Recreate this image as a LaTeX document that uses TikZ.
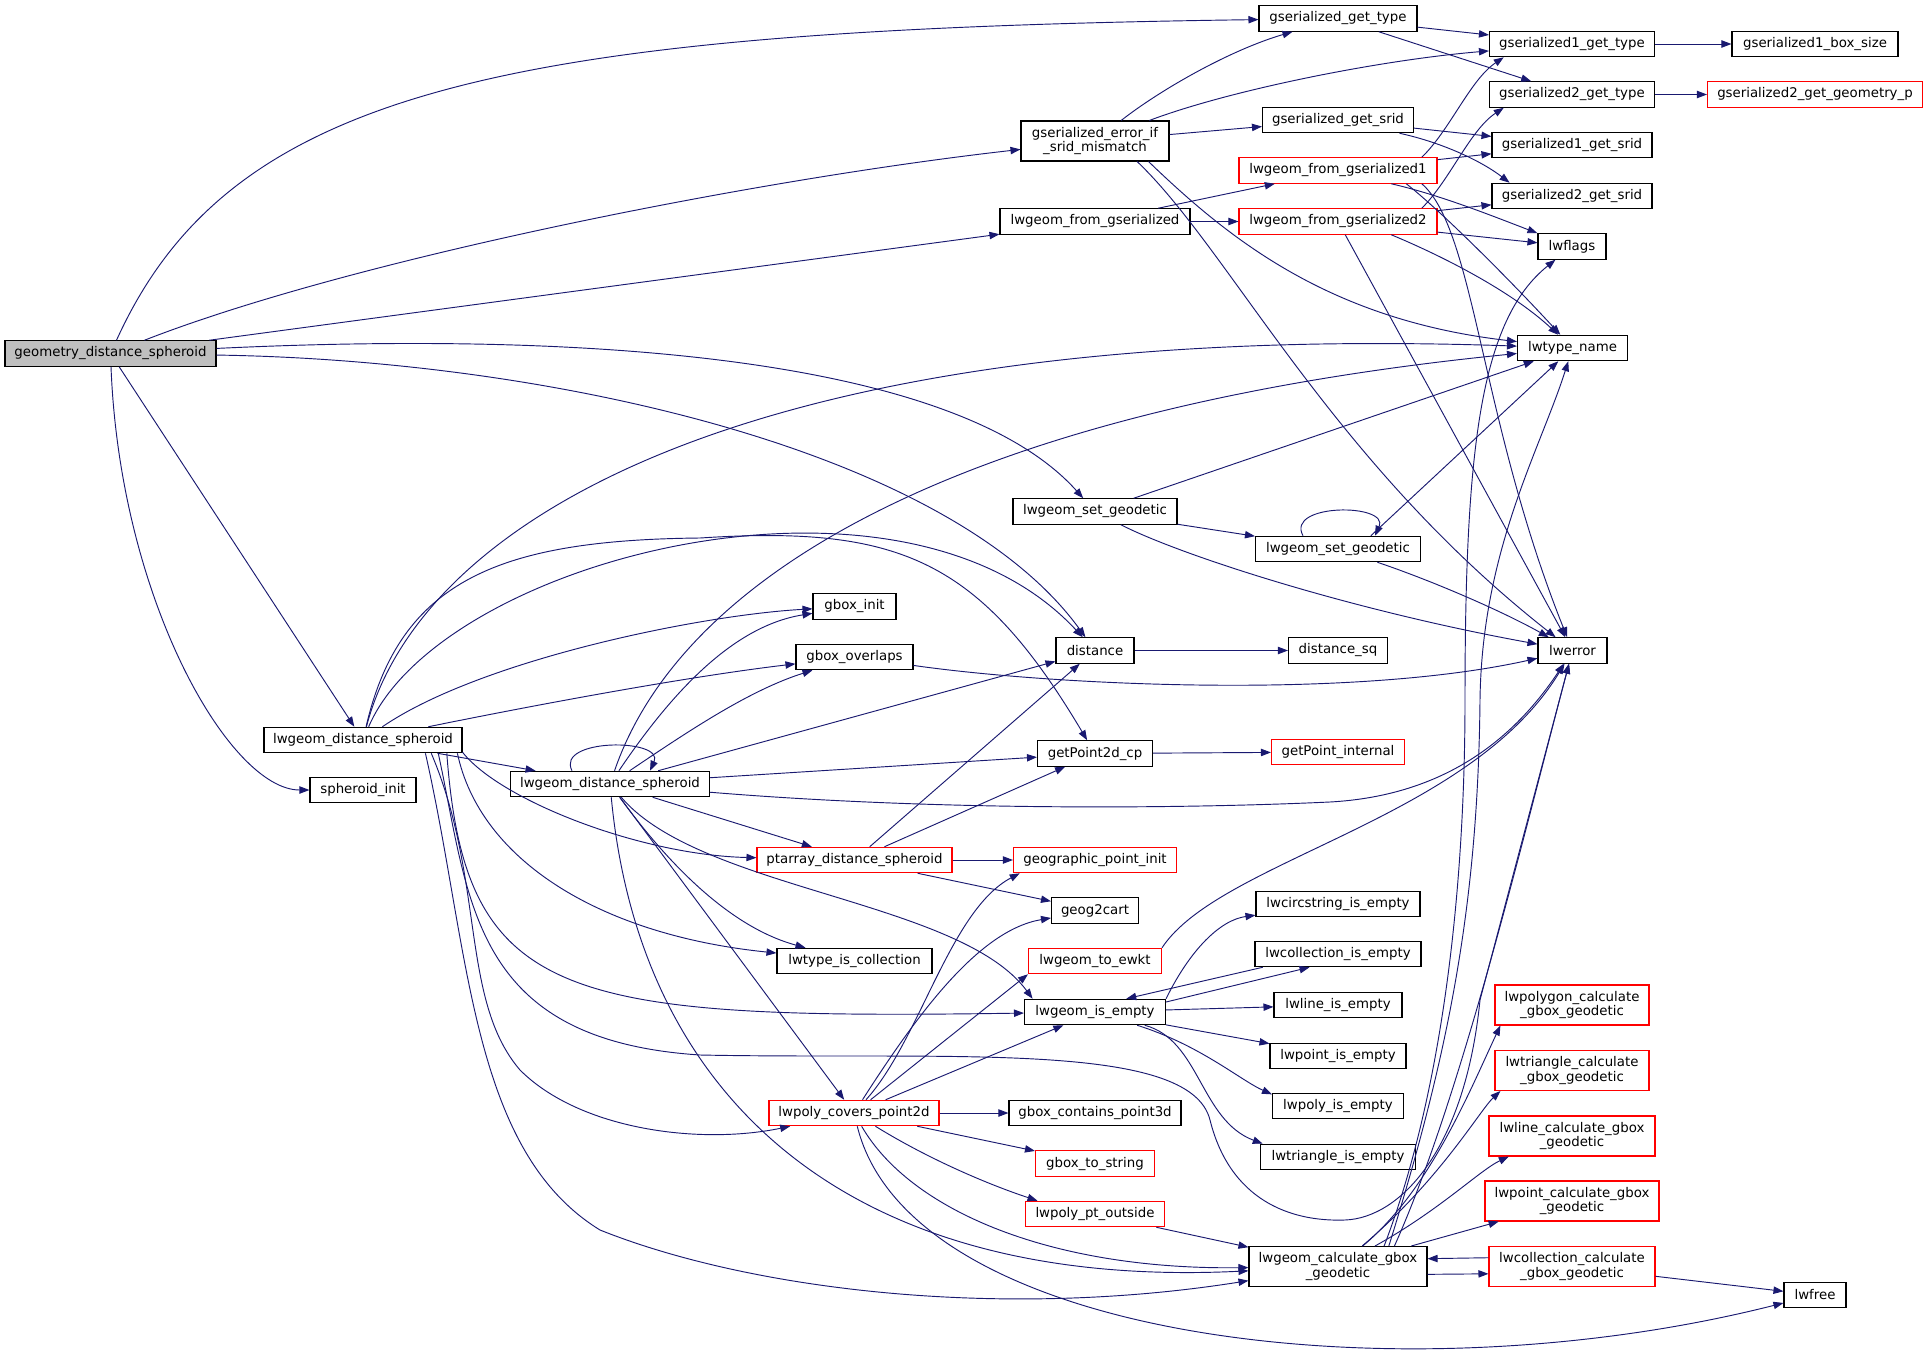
\documentclass[tikz,border=0pt]{standalone}
\usepackage{fontspec}
\setmainfont{DejaVu Sans}
\usetikzlibrary{arrows.meta}
\definecolor{edgeblue}{HTML}{191970}
\begin{document}
\begin{tikzpicture}[x=0.75pt,y=-0.75pt,
	every node/.style={draw=black,line width=0.8pt,fill=white,inner sep=0pt,
		minimum height=19.1pt,align=center,font=\fontsize{10}{11.2}\selectfont},
	boxw/.style={minimum width=#1*0.75pt},
	tall/.style={minimum height=30pt},
	trunc/.style={draw=red},
	root/.style={fill=gray!50},
	call/.style={draw=edgeblue,line width=0.7pt,-{Triangle[length=7.5pt,width=5.5pt]}}]
\fill[white,use as bounding box] (0,0) rectangle (1928,1363);
\node[root,boxw=211] (gds) at (110.5,353.5) {geometry\_distance\_spheroid};
\node[boxw=198] (lds) at (363,740) {lwgeom\_distance\_spheroid};
\node[boxw=106] (sinit) at (363,790) {spheroid\_init};
\node[boxw=199] (ldsb) at (610,784) {lwgeom\_distance\_spheroid};
\node[boxw=83] (ginit) at (854.5,606.5) {gbox\_init};
\node[boxw=117] (govl) at (854.5,657) {gbox\_overlaps};
\node[trunc,boxw=195] (pds) at (854.5,860) {ptarray\_distance\_spheroid};
\node[boxw=155] (ltic) at (854.5,961) {lwtype\_is\_collection};
\node[trunc,boxw=170] (lpc) at (854,1113) {lwpoly\_covers\_point2d};
\node[tall,boxw=148] (geif) at (1095,141) {gserialized\_error\_if\\\_srid\_mismatch};
\node[boxw=190] (lfg) at (1095,221.5) {lwgeom\_from\_gserialized};
\node[boxw=164] (lsg) at (1095,511.5) {lwgeom\_set\_geodetic};
\node[boxw=78] (dist) at (1095,650.5) {distance};
\node[boxw=115] (gp2d) at (1095,753.5) {getPoint2d\_cp};
\node[trunc,boxw=163] (gpi) at (1095,860) {geographic\_point\_init};
\node[boxw=87] (g2c) at (1095,910.5) {geog2cart};
\node[trunc,boxw=133] (ewkt) at (1095,961) {lwgeom\_to\_ewkt};
\node[boxw=141] (lie) at (1095,1012) {lwgeom\_is\_empty};
\node[boxw=172] (gcp3) at (1095,1113) {gbox\_contains\_point3d};
\node[trunc,boxw=119] (gts) at (1095,1163.5) {gbox\_to\_string};
\node[trunc,boxw=139] (lppo) at (1095,1214) {lwpoly\_pt\_outside};
\node[boxw=158] (ggt) at (1338,18.5) {gserialized\_get\_type};
\node[boxw=151] (ggs) at (1338,120) {gserialized\_get\_srid};
\node[trunc,boxw=198] (lfg1) at (1338,170.5) {lwgeom\_from\_gserialized1};
\node[trunc,boxw=198] (lfg2) at (1338,221.5) {lwgeom\_from\_gserialized2};
\node[boxw=165] (lsgb) at (1338,549) {lwgeom\_set\_geodetic};
\node[boxw=99] (dsq) at (1338,650.5) {distance\_sq};
\node[trunc,boxw=133] (gpint) at (1338,752) {getPoint\_internal};
\node[boxw=164] (lcie) at (1338,904) {lwcircstring\_is\_empty};
\node[boxw=166] (lcoie) at (1338,954) {lwcollection\_is\_empty};
\node[boxw=128] (llie) at (1338,1005) {lwline\_is\_empty};
\node[boxw=136] (lptie) at (1338,1056) {lwpoint\_is\_empty};
\node[boxw=131] (lpyie) at (1338,1106) {lwpoly\_is\_empty};
\node[boxw=155] (ltrie) at (1338,1157) {lwtriangle\_is\_empty};
\node[tall,boxw=178] (lcgg) at (1338,1266.5) {lwgeom\_calculate\_gbox\\\_geodetic};
\node[boxw=165] (g1gt) at (1572,44) {gserialized1\_get\_type};
\node[boxw=165] (g2gt) at (1572,94.5) {gserialized2\_get\_type};
\node[boxw=160] (g1gs) at (1572,145) {gserialized1\_get\_srid};
\node[boxw=160] (g2gs) at (1572,196) {gserialized2\_get\_srid};
\node[boxw=68] (lwfl) at (1572,246.5) {lwflags};
\node[boxw=110] (ltn) at (1572.5,348) {lwtype\_name};
\node[boxw=69] (lwerr) at (1572.5,650.5) {lwerror};
\node[trunc,tall,boxw=154] (lpgc) at (1572,1005) {lwpolygon\_calculate\\\_gbox\_geodetic};
\node[trunc,tall,boxw=154] (ltgc) at (1572,1070.5) {lwtriangle\_calculate\\\_gbox\_geodetic};
\node[trunc,tall,boxw=166] (llgc) at (1572,1136) {lwline\_calculate\_gbox\\\_geodetic};
\node[trunc,tall,boxw=174] (lptgc) at (1572,1201) {lwpoint\_calculate\_gbox\\\_geodetic};
\node[trunc,tall,boxw=166] (lcgc) at (1572,1266.5) {lwcollection\_calculate\\\_gbox\_geodetic};
\node[boxw=166] (g1bs) at (1815,44) {gserialized1\_box\_size};
\node[trunc,boxw=215] (g2gp) at (1815,94.5) {gserialized2\_get\_geometry\_p};
\node[boxw=62] (lwfree) at (1815,1295) {lwfree};
\draw[call] (gds) .. controls (230,90) and (500,30) .. (ggt);
\draw[call] (gds) .. controls (350,260) and (750,180) .. (geif);
\draw[call] (gds) -- (lfg);
\draw[call] (gds) .. controls (600,330) and (960,360) .. (lsg);
\draw[call] (gds) .. controls (550,360) and (950,450) .. (dist);
\draw[call] (gds) -- (lds);
\draw[call] (gds) .. controls (120,600) and (230,790) .. (sinit);
\draw[call] (lds) .. controls (420,520) and (750,320) .. (ltn);
\draw[call] (lds) .. controls (440,560) and (900,440) .. (dist);
\draw[call] (lds) .. controls (400,580) and (500,540) .. (700,538) .. controls (900,525) and (980,560) .. (gp2d);
\draw[call] (lds) .. controls (480,660) and (700,615) .. (ginit);
\draw[call] (lds) .. controls (560,700) and (700,675) .. (govl);
\draw[call] (lds) -- (ldsb);
\draw[call] (lds.-7) .. controls (500,800) and (640,855) .. (pds);
\draw[call] (lds.-8) .. controls (480,860) and (600,935) .. (ltic);
\draw[call] (lds.-9) .. controls (465,1000) and (560,1020) .. (lie);
\draw[call] (lds.-10) .. controls (470,900) and (470,1040) .. (700,1055) .. controls (950,1060) and (1190,1040) .. (1210,1120) .. controls (1230,1200) and (1290,1222) .. (1345,1220) .. controls (1400,1218) and (1465,1150) .. (1480,1000) -- (lwerr);
\draw[call] (lds.-11) .. controls (485,880) and (460,1000) .. (520,1070) .. controls (580,1130) and (700,1145) .. (lpc);
\draw[call] (lds.-12) .. controls (470,950) and (470,1150) .. (600,1230) .. controls (750,1290) and (1000,1320) .. (lcgg);
\draw[call] ([xshift=-28.5pt]ldsb.north) .. controls (555,738) and (665,738) .. ([xshift=30pt]ldsb.north);
\draw[call] (ldsb) .. controls (680,580) and (950,410) .. (ltn);
\draw[call] (ldsb) .. controls (680,680) and (740,625) .. (ginit);
\draw[call] (ldsb) .. controls (690,730) and (750,690) .. (govl);
\draw[call] (ldsb) -- (dist);
\draw[call] (ldsb) -- (gp2d);
\draw[call] (ldsb) .. controls (950,812) and (1200,808) .. (1330,802) .. controls (1420,797) and (1500,760) .. (lwerr);
\draw[call] (ldsb) -- (pds);
\draw[call] (ldsb) .. controls (700,890) and (960,900) .. (lie.168);
\draw[call] (ldsb) .. controls (680,880) and (740,930) .. (ltic);
\draw[call] (ldsb) -- (lpc);
\draw[call] (ldsb) .. controls (640,1100) and (850,1290) .. (lcgg);
\draw[call] (pds) -- (gpi);
\draw[call] (pds) -- (g2c);
\draw[call] (pds) -- (dist);
\draw[call] (pds) -- (gp2d);
\draw[call] (lpc) .. controls (920,1040) and (950,910) .. (gpi.190);
\draw[call] (lpc) .. controls (920,1010) and (980,930) .. (g2c);
\draw[call] (lpc) -- (ewkt.south west);
\draw[call] (lpc) -- (lie);
\draw[call] (lpc) -- (gcp3);
\draw[call] (lpc) -- (gts);
\draw[call] (lpc) .. controls (930,1160) and (990,1185) .. (lppo.167);
\draw[call] (lpc) .. controls (910,1210) and (1050,1270) .. (lcgg);
\draw[call] (lpc) .. controls (910,1340) and (1400,1400) .. (lwfree);
\draw[call] (ewkt.north east) .. controls (1220,860) and (1470,820) .. (lwerr);
\draw[call] (lie.north east) .. controls (1190,950) and (1220,920) .. (lcie);
\draw[call] (lie.8) -- (lcoie.205);
\draw[call] (lcoie.190) -- (lie.23);
\draw[call] (lie) -- (llie);
\draw[call] (lie) -- (lptie);
\draw[call] (lie) .. controls (1200,1045) and (1240,1080) .. (lpyie.170);
\draw[call] (lie) .. controls (1200,1040) and (1200,1120) .. (ltrie.170);
\draw[call] (lppo) -- (lcgg);
\draw[call] (lcgg) .. controls (1430,1190) and (1470,1090) .. (lpgc.196);
\draw[call] (lcgg) .. controls (1440,1180) and (1480,1110) .. (ltgc.196);
\draw[call] (lcgg) .. controls (1440,1210) and (1480,1170) .. (llgc.198);
\draw[call] (lcgg) -- (lptgc);
\draw[call] (lcgg.-5.5) -- (lcgc.185.85);
\draw[call] (lcgc.174) -- (lcgg.5.5);
\draw[call] (lcgg.24) .. controls (1440,1100) and (1465,900) .. (1465,700) .. controls (1465,450) and (1480,320) .. (lwfl);
\draw[call] (lcgg.22) .. controls (1450,1050) and (1478,900) .. (1480,700) .. controls (1482,550) and (1540,450) .. (ltn);
\draw[call] (lcgg.20) .. controls (1460,1100) and (1520,850) .. (lwerr);
\draw[call] (lcgc) -- (lwfree);
\draw[call] (geif) .. controls (1160,90) and (1230,50) .. (ggt);
\draw[call] (geif) .. controls (1230,90) and (1380,60) .. (g1gt);
\draw[call] (geif) -- (ggs);
\draw[call] (geif.-21) .. controls (1230,240) and (1330,320) .. (ltn);
\draw[call] (geif.-26) .. controls (1230,250) and (1330,460) .. (lwerr);
\draw[call] (lfg) -- (lfg1);
\draw[call] (lfg) -- (lfg2);
\draw[call] (ggt) -- (g1gt);
\draw[call] (ggt) -- (g2gt);
\draw[call] (ggs) -- (g1gs);
\draw[call] (ggs) .. controls (1440,142) and (1480,160) .. (g2gs.168);
\draw[call] (g1gt) -- (g1bs);
\draw[call] (g2gt) -- (g2gp);
\draw[call] (lfg1.9) .. controls (1450,130) and (1470,80) .. (g1gt.191);
\draw[call] (lfg1) -- (g1gs);
\draw[call] (lfg1.-14) .. controls (1440,195) and (1490,215) .. (lwfl);
\draw[call] (lfg1.-11) .. controls (1440,210) and (1510,280) .. (ltn);
\draw[call] (lfg1.-9) .. controls (1475,230) and (1480,420) .. (lwerr);
\draw[call] (lfg2.9) .. controls (1450,180) and (1470,130) .. (g2gt.191);
\draw[call] (lfg2) -- (g2gs);
\draw[call] (lfg2) -- (lwfl);
\draw[call] (lfg2.-14) .. controls (1440,255) and (1510,290) .. (ltn);
\draw[call] (lfg2) -- (lwerr);
\draw[call] (lsg) -- (ltn);
\draw[call] (lsg) -- (lsgb);
\draw[call] (lsg) .. controls (1180,555) and (1350,610) .. (lwerr);
\draw[call] ([xshift=-26.25pt]lsgb.north) .. controls (1285,503) and (1390,503) .. ([xshift=27.75pt]lsgb.north);
\draw[call] (lsgb.22) -- (ltn);
\draw[call] (lsgb) .. controls (1430,580) and (1500,610) .. (lwerr);
\draw[call] (dist) -- (dsq);
\draw[call] (gp2d) -- (gpint);
\draw[call] (govl) .. controls (1050,685) and (1350,700) .. (lwerr);
\end{tikzpicture}
\end{document}
